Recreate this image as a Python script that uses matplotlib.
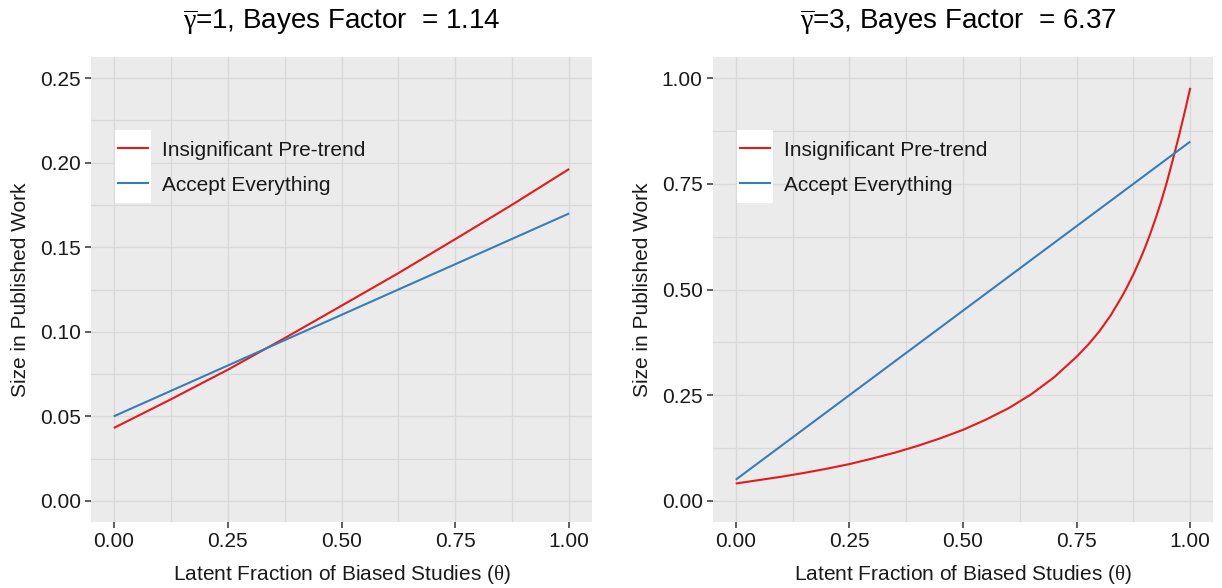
import matplotlib
matplotlib.use("Agg")
import matplotlib.pyplot as plt
from matplotlib.ticker import MultipleLocator, FormatStrFormatter
from matplotlib.legend_handler import HandlerLine2D
from matplotlib.patches import Rectangle
from matplotlib.lines import Line2D

plt.rcParams["font.family"] = ["Liberation Sans", "DejaVu Sans"]
plt.rcParams["mathtext.fontset"] = "custom"
plt.rcParams["mathtext.rm"] = "Liberation Serif"
plt.rcParams["mathtext.it"] = "Liberation Serif:italic"

# ---- data -------------------------------------------------------------
series_names = ["Insignificant Pre-trend", "Accept Everything"]
series_colors = ["#E41A1C", "#377EB8"]

# gamma-bar = 1
theta_pre_g1 = [0.0, 0.125, 0.25, 0.375, 0.5, 0.625, 0.75, 0.875, 1.0]
pretrend_g1 = [0.0431, 0.0600, 0.0775, 0.0962, 0.1154, 0.1347, 0.1548, 0.1752, 0.1963]
theta_acc_g1 = [0.0, 0.25, 0.5, 0.75, 1.0]
accept_g1 = [0.050, 0.080, 0.110, 0.140, 0.170]
bayes_g1 = "1.14"

# gamma-bar = 3
theta_pre_g3 = [0.0, 0.05, 0.1, 0.15, 0.2, 0.25, 0.3, 0.35, 0.4, 0.45, 0.5,
                0.55, 0.6, 0.65, 0.7, 0.75, 0.775, 0.8, 0.825, 0.85, 0.86,
                0.875, 0.89, 0.9, 0.91, 0.925, 0.935, 0.945, 0.95, 0.955,
                0.965, 0.975, 0.98, 0.99, 1.0]
pretrend_g3 = [0.041, 0.049, 0.057, 0.066, 0.076, 0.087, 0.100, 0.114, 0.130,
               0.148, 0.168, 0.192, 0.219, 0.252, 0.292, 0.341, 0.369, 0.401,
               0.439, 0.484, 0.504, 0.536, 0.572, 0.598, 0.626, 0.672, 0.705,
               0.741, 0.760, 0.780, 0.821, 0.863, 0.885, 0.930, 0.977]
theta_acc_g3 = [0.0, 0.25, 0.5, 0.75, 1.0]
accept_g3 = [0.05, 0.25, 0.45, 0.65, 0.85]
bayes_g3 = "6.37"

y_ticks_g1 = [0.00, 0.05, 0.10, 0.15, 0.20, 0.25]
y_ticks_g3 = [0.00, 0.25, 0.50, 0.75, 1.00]
x_ticks = [0.00, 0.25, 0.50, 0.75, 1.00]

FS = 15
GRID = "#D9D9D9"
PANEL = "#EBEBEB"


class WhiteKeyHandler(HandlerLine2D):
    """Legend key drawn on a white tile, like ggplot's legend.key."""

    def create_artists(self, legend, orig_handle, xdescent, ydescent,
                       width, height, fontsize, trans):
        artists = super().create_artists(legend, orig_handle, xdescent,
                                         ydescent, width, height, fontsize,
                                         trans)
        padx = 0.15 * fontsize
        pady = 0.5 * legend.labelspacing * fontsize + 1.5
        tile = Rectangle((-xdescent - padx, -ydescent - pady),
                         width + 2 * padx, height + 2 * pady,
                         facecolor="white", edgecolor="none",
                         transform=trans)
        return [tile] + artists


fig = plt.figure(figsize=(12.22, 5.88), dpi=100, facecolor="white")

panels = [
    dict(rect=[91 / 1222, 1 - 522 / 588, 501 / 1222, 465 / 588],
         xs=[theta_pre_g1, theta_acc_g1], ys=[pretrend_g1, accept_g1],
         yt=y_ticks_g1, ylim=(-0.0125, 0.2625), gamma="1", bf=bayes_g1,
         minor=0.025, title_x=0.5),
    dict(rect=[713 / 1222, 1 - 522 / 588, 500 / 1222, 465 / 588],
         xs=[theta_pre_g3, theta_acc_g3], ys=[pretrend_g3, accept_g3],
         yt=y_ticks_g3, ylim=(-0.05, 1.05), gamma="3", bf=bayes_g3,
         minor=0.125, title_x=0.49),
]

for p in panels:
    ax = fig.add_axes(p["rect"])
    ax.set_facecolor(PANEL)
    for s in ax.spines.values():
        s.set_visible(False)

    for xv, yv, name, col in zip(p["xs"], p["ys"], series_names, series_colors):
        ax.plot(xv, yv, color=col, lw=1.5, label=name,
                solid_capstyle="butt", solid_joinstyle="round", zorder=3)

    ax.set_xlim(-0.05, 1.05)
    ax.set_ylim(*p["ylim"])
    ax.set_xticks(x_ticks)
    ax.set_yticks(p["yt"])
    ax.xaxis.set_minor_locator(MultipleLocator(0.125))
    ax.yaxis.set_minor_locator(MultipleLocator(p["minor"]))
    ax.xaxis.set_major_formatter(FormatStrFormatter("%.2f"))
    ax.yaxis.set_major_formatter(FormatStrFormatter("%.2f"))
    ax.grid(which="major", color=GRID, lw=1.0)
    ax.grid(which="minor", color=GRID, lw=0.9)
    ax.set_axisbelow(True)
    ax.tick_params(which="major", length=4.2, width=1.1, color="#333333",
                   labelsize=FS, labelcolor="#1A1A1A", pad=3.2)
    ax.tick_params(which="minor", length=0)

    ax.set_title(r"$\overline{\mathrm{\gamma}}$=" + p["gamma"] +
                 ", Bayes Factor  = " + p["bf"], fontsize=20, pad=20,
                 color="black", x=p["title_x"])
    ax.set_xlabel(r"Latent Fraction of Biased Studies ($\mathrm{\theta}$)",
                  fontsize=FS, color="#1A1A1A")
    ax.set_ylabel("Size in Published Work", fontsize=FS, color="#1A1A1A")
    ax.xaxis.set_label_coords(0.5, -0.089)
    ax.yaxis.set_label_coords(-0.122, 0.5)

    handles = [Line2D([], [], color=c, lw=1.5) for c in series_colors]
    leg = ax.legend(handles, series_names, loc="upper left",
                    bbox_to_anchor=(0.054, 0.822), frameon=False,
                    fontsize=FS, handlelength=1.44, handleheight=1.0,
                    handletextpad=0.67, labelspacing=0.70, borderpad=0.0,
                    borderaxespad=0.0,
                    handler_map={Line2D: WhiteKeyHandler()})
    for t in leg.get_texts():
        t.set_color("#1A1A1A")

fig.savefig("out.png", dpi=100, facecolor="white")
